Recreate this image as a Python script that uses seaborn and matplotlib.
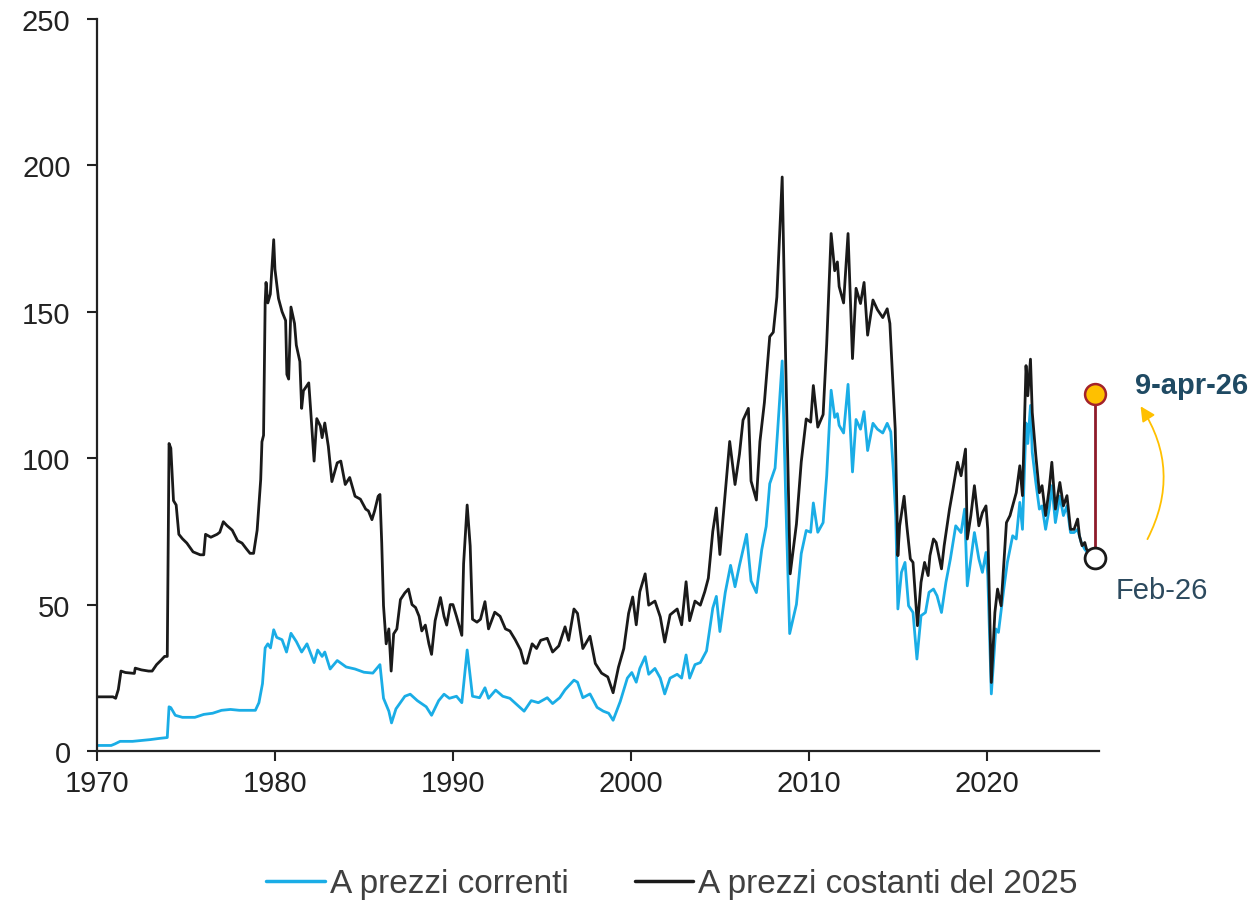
import matplotlib

matplotlib.use("Agg")
import matplotlib.pyplot as plt
import pandas as pd
import seaborn as sns

# Prezzo del petrolio (dollari al barile), letture approssimate dal grafico
anni_costanti = [
    1970.0, 1970.9, 1971.05, 1971.2, 1971.35, 1971.6, 1972.1, 1972.15, 1972.5, 1972.9,
    1973.1, 1973.35, 1973.6, 1973.8, 1973.95, 1974.05, 1974.15, 1974.3, 1974.45, 1974.6,
    1974.8, 1975.05, 1975.4, 1975.8, 1976.0, 1976.1, 1976.4, 1976.75, 1976.9, 1977.1,
    1977.3, 1977.6, 1977.9, 1978.15, 1978.4, 1978.6, 1978.8, 1979.0, 1979.2, 1979.27,
    1979.36, 1979.45, 1979.5, 1979.6, 1979.74, 1979.93, 1980.0, 1980.2, 1980.4, 1980.6,
    1980.67, 1980.77, 1980.9, 1981.1, 1981.2, 1981.4, 1981.5, 1981.6, 1981.9, 1982.0,
    1982.2, 1982.35, 1982.55, 1982.65, 1982.8, 1983.0, 1983.2, 1983.5, 1983.7, 1983.95,
    1984.2, 1984.5, 1984.8, 1985.1, 1985.25, 1985.45, 1985.6, 1985.8, 1985.9, 1986.0,
    1986.1, 1986.25, 1986.4, 1986.53, 1986.67, 1986.85, 1987.05, 1987.3, 1987.5, 1987.7,
    1987.9, 1988.1, 1988.25, 1988.45, 1988.65, 1988.8, 1989.0, 1989.3, 1989.5, 1989.65,
    1989.85, 1990.0, 1990.2, 1990.5, 1990.6, 1990.8, 1990.97, 1991.1, 1991.35, 1991.55,
    1991.8, 1992.0, 1992.35, 1992.65, 1992.95, 1993.2, 1993.5, 1993.8, 1994.0, 1994.15,
    1994.45, 1994.7, 1994.93, 1995.3, 1995.6, 1995.95, 1996.3, 1996.5, 1996.8, 1997.0,
    1997.3, 1997.7, 1998.0, 1998.35, 1998.7, 1999.0, 1999.3, 1999.6, 1999.87, 2000.1,
    2000.3, 2000.5, 2000.8, 2001.0, 2001.35, 2001.65, 2001.9, 2002.2, 2002.6, 2002.85,
    2003.1, 2003.3, 2003.6, 2003.9, 2004.15, 2004.35, 2004.6, 2004.8, 2005.0, 2005.3,
    2005.55, 2005.85, 2006.1, 2006.3, 2006.6, 2006.75, 2007.05, 2007.25, 2007.5, 2007.8,
    2008.0, 2008.2, 2008.5, 2008.7, 2008.95, 2009.3, 2009.57, 2009.85, 2010.1, 2010.25,
    2010.5, 2010.8, 2011.0, 2011.25, 2011.45, 2011.6, 2011.7, 2011.95, 2012.2, 2012.45,
    2012.65, 2012.9, 2013.1, 2013.3, 2013.6, 2013.85, 2014.15, 2014.4, 2014.55, 2014.7,
    2014.85, 2015.0, 2015.1, 2015.35, 2015.5, 2015.7, 2015.85, 2016.1, 2016.3, 2016.5,
    2016.7, 2016.8, 2017.0, 2017.15, 2017.45, 2017.6, 2017.9, 2018.1, 2018.35, 2018.55,
    2018.8, 2018.9, 2019.1, 2019.3, 2019.55, 2019.75, 2019.95, 2020.05, 2020.25, 2020.45,
    2020.6, 2020.8, 2021.1, 2021.3, 2021.45, 2021.65, 2021.85, 2022.0, 2022.2, 2022.3,
    2022.45, 2022.55, 2022.75, 2022.95, 2023.1, 2023.3, 2023.5, 2023.65, 2023.85, 2024.1,
    2024.3, 2024.5, 2024.7, 2024.9, 2025.1, 2025.2, 2025.35, 2025.5, 2025.6, 2025.8,
    2026.08,
]
prezzi_costanti = [
    18.5, 18.5, 18, 21, 27.3, 26.8, 26.5, 28.3, 27.7, 27.3,
    27.3, 29.5, 31, 32.3, 32.3, 105, 103.4, 85.5, 84, 74,
    72.5, 71, 68, 67, 67, 74, 73, 74, 74.7, 78.3,
    77, 75.4, 71.8, 71, 69, 67.5, 67.5, 75.4, 92.7, 105.6,
    107.8, 153, 160, 153, 156, 174.6, 164.5, 154.5, 150, 147,
    128.6, 127, 151.6, 146, 138.6, 133, 117, 123, 125.7, 117,
    99, 113.5, 111, 107, 112, 104, 92, 98.4, 99, 91,
    93.4, 87, 86, 82.6, 82, 79, 82, 87, 87.6, 71,
    49.6, 36.6, 41.7, 27.3, 40, 41.7, 51.7, 54, 55.3, 50,
    49, 46, 41, 43, 36.6, 33, 44.5, 52.4, 46, 43,
    50, 50, 46, 39.5, 64, 84, 70, 45, 44, 45,
    51, 41.7, 47.4, 46, 41.7, 41, 38, 34.5, 30, 30,
    36.6, 35, 37.8, 38.5, 33.8, 35.9, 42.4, 37.8, 48.5, 47,
    35, 39.2, 29.9, 26.6, 25.3, 19.9, 28.6, 35, 47, 52.6,
    43.1, 54.4, 60.5, 49.8, 51.2, 45.8, 37.2, 46.5, 48.5, 43.1,
    57.8, 44.5, 51.2, 49.8, 54.4, 59, 75, 83, 67.1, 88.3,
    105.7, 91, 101.4, 113, 117, 92.2, 85.7, 105.7, 119, 141.5,
    143, 155, 196, 132, 60.5, 77.5, 98.7, 113.4, 112.3, 124.8,
    110.6, 114.9, 138.9, 176.7, 164, 167, 158.6, 153, 176.7, 134,
    158, 152.8, 160, 142, 154, 150.7, 148, 151, 146, 128,
    110, 66.7, 76.9, 87, 77, 65.6, 64.4, 42.8, 57.6, 64.4,
    59.9, 66.7, 72.4, 71.2, 62.2, 70.1, 82.6, 89.5, 98.6, 94,
    103.1, 72.4, 80.4, 90.6, 76.9, 81.4, 83.7, 75.7, 23.4, 47.3,
    55.3, 49.6, 78, 80.4, 83.7, 88.2, 97.4, 87.2, 131.6, 121.3,
    133.8, 115.6, 100.9, 88.2, 90.6, 80.4, 89.5, 98.6, 82.6, 91.7,
    83.7, 87.2, 75.7, 75.7, 79.2, 73.5, 70.1, 71.2, 68.9, 67.8,
    66,
]

anni_correnti = [
    1970.0, 1970.8, 1971.0, 1971.3, 1972.0, 1972.5, 1973.0, 1973.5, 1973.95, 1974.05,
    1974.15, 1974.4, 1974.8, 1975.5, 1976.0, 1976.5, 1977.0, 1977.5, 1978.0, 1978.9,
    1979.1, 1979.3, 1979.45, 1979.6, 1979.75, 1979.93, 1980.1, 1980.4, 1980.65, 1980.9,
    1981.2, 1981.5, 1981.8, 1982.2, 1982.4, 1982.65, 1982.8, 1983.1, 1983.5, 1984.0,
    1984.5, 1985.0, 1985.5, 1985.9, 1986.1, 1986.4, 1986.55, 1986.8, 1987.3, 1987.6,
    1988.0, 1988.5, 1988.8, 1989.2, 1989.5, 1989.8, 1990.2, 1990.5, 1990.8, 1991.1,
    1991.5, 1991.8, 1992.0, 1992.4, 1992.8, 1993.2, 1993.6, 1994.0, 1994.4, 1994.8,
    1995.3, 1995.6, 1996.0, 1996.3, 1996.8, 1997.0, 1997.3, 1997.7, 1998.1, 1998.45,
    1998.75, 1999.0, 1999.4, 1999.8, 2000.05, 2000.3, 2000.5, 2000.8, 2001.0, 2001.35,
    2001.65, 2001.9, 2002.2, 2002.6, 2002.85, 2003.1, 2003.3, 2003.6, 2003.9, 2004.25,
    2004.6, 2004.8, 2005.0, 2005.3, 2005.6, 2005.85, 2006.1, 2006.5, 2006.75, 2007.05,
    2007.35, 2007.6, 2007.8, 2008.1, 2008.25, 2008.5, 2008.7, 2008.92, 2009.3, 2009.57,
    2009.85, 2010.1, 2010.25, 2010.5, 2010.8, 2011.0, 2011.25, 2011.45, 2011.6, 2011.7,
    2011.95, 2012.2, 2012.45, 2012.65, 2012.9, 2013.1, 2013.3, 2013.6, 2013.85, 2014.15,
    2014.4, 2014.6, 2014.75, 2014.88, 2015.0, 2015.2, 2015.4, 2015.6, 2015.85, 2016.07,
    2016.3, 2016.55, 2016.75, 2017.0, 2017.2, 2017.45, 2017.7, 2017.95, 2018.25, 2018.55,
    2018.75, 2018.9, 2019.1, 2019.3, 2019.55, 2019.75, 2019.95, 2020.05, 2020.25, 2020.5,
    2020.65, 2020.95, 2021.15, 2021.45, 2021.65, 2021.85, 2022.0, 2022.2, 2022.3, 2022.45,
    2022.55, 2022.75, 2022.95, 2023.1, 2023.3, 2023.5, 2023.65, 2023.85, 2024.1, 2024.3,
    2024.5, 2024.7, 2024.9, 2025.1, 2025.3, 2025.5, 2025.65, 2026.08,
]
prezzi_correnti = [
    1.9, 1.9, 2.4, 3.3, 3.3, 3.6, 3.9, 4.3, 4.6, 15.1,
    14.8, 12.2, 11.5, 11.5, 12.5, 12.9, 13.9, 14.2, 13.9, 13.9,
    16.5, 23, 35.2, 36.6, 35.2, 41.4, 38.8, 38, 33.8, 40.2,
    37.4, 33.8, 36.6, 30.2, 34.5, 32.3, 33.8, 28, 30.9, 28.7,
    28, 26.9, 26.6, 29.5, 18, 13.6, 9.6, 14.4, 18.7, 19.4,
    17.2, 15.1, 12.2, 17.2, 19.4, 18, 18.7, 16.5, 34.5, 18.7,
    18.2, 21.6, 18, 20.8, 18.7, 18, 15.8, 13.6, 17.2, 16.5,
    18.2, 16.2, 18.2, 20.9, 24.2, 23.5, 18.2, 19.5, 14.9, 13.6,
    12.9, 10.5, 16.9, 24.9, 26.8, 23.5, 28.2, 32.2, 26.2, 28.2,
    24.9, 19.5, 24.9, 26.2, 24.9, 32.8, 24.9, 29.5, 30.2, 34.2,
    48.8, 52.8, 40.8, 54.1, 63.4, 56.1, 63.4, 74, 58.1, 54.1,
    68.7, 76.7, 91.3, 96.6, 109.9, 133.2, 86, 40.1, 50.1, 67.4,
    75.3, 74.7, 84.7, 74.7, 78, 94, 123.2, 113.9, 115.2, 111.2,
    108.6, 125.2, 95.3, 113.2, 109.9, 115.9, 102.6, 111.9, 109.9, 108.6,
    111.9, 109, 95.3, 80, 48.5, 61, 64.4, 49.6, 47.3, 31.4,
    46.2, 47.3, 54.2, 55.3, 53, 47.3, 57.6, 65.6, 76.9, 74.6,
    82.6, 56.4, 65.6, 74.6, 65.6, 61, 67.8, 59.9, 19.5, 41.7,
    40.5, 55.3, 64.4, 73.5, 72.4, 84.9, 75.7, 112, 105, 118,
    102, 91.7, 82.6, 83.7, 75.7, 82.6, 90.6, 78, 87, 80.4,
    83.7, 74.6, 74.6, 75.7, 71.2, 68.9, 67.8, 65.6,
]

# ultimo dato mensile e quotazione del 9 aprile 2026
data_feb26 = 2026.08
prezzo_feb26 = 66
prezzo_apr26 = 122

etichetta_correnti = "A prezzi correnti"
etichetta_costanti = "A prezzi costanti del 2025"

df = pd.concat([
    pd.DataFrame({"anno": anni_correnti, "prezzo": prezzi_correnti, "serie": etichetta_correnti}),
    pd.DataFrame({"anno": anni_costanti, "prezzo": prezzi_costanti, "serie": etichetta_costanti}),
])

sns.set_style("ticks")
plt.rcParams["font.family"] = ["Liberation Sans", "DejaVu Sans"]

fig = plt.figure(figsize=(12.56, 9.03), dpi=100)
ax = fig.add_axes([0.0772, 0.1672, 0.7978, 0.8108])

sns.lineplot(
    data=df, x="anno", y="prezzo", hue="serie",
    palette={etichetta_correnti: "#1AADE6", etichetta_costanti: "#1A1A1A"},
    linewidth=2.0, ax=ax, sort=False, estimator=None, legend=False,
)

# salto feb-26 -> 9-apr-26
ax.plot([data_feb26, data_feb26], [prezzo_feb26, prezzo_apr26], color="#8E1B2A", lw=2, zorder=4)
ax.plot(data_feb26, prezzo_apr26, "o", ms=15, mfc="#FFC000", mec="#A3222A", mew=1.8, zorder=5, clip_on=False)
ax.plot(data_feb26, prezzo_feb26, "o", ms=15, mfc="white", mec="#1A1A1A", mew=2, zorder=5, clip_on=False)

ax.annotate(
    "", xy=(2028.55, 118.5), xytext=(2028.95, 71.5), annotation_clip=False,
    arrowprops=dict(arrowstyle="-|>", color="#FFC000", lw=1.3, mutation_scale=22,
                    connectionstyle="arc3,rad=0.3"),
)
ax.text(2028.35, 125, "9-apr-26", fontsize=21, fontweight="bold", color="#1F4A63",
        va="center", ha="left", clip_on=False)
ax.text(2027.25, 55, "Feb-26", fontsize=21, color="#2C4A5E", va="center", ha="left", clip_on=False)

ax.set_xlim(1970, 2026.3)
ax.set_ylim(0, 250)
ax.set_xticks([1970, 1980, 1990, 2000, 2010, 2020])
ax.set_yticks([0, 50, 100, 150, 200, 250])
ax.set_xlabel("")
ax.set_ylabel("")
ax.tick_params(axis="both", labelsize=21, colors="#222222", width=1.5, length=7)
ax.tick_params(axis="y", pad=12)
ax.tick_params(axis="x", pad=6)
sns.despine(ax=ax)
for side in ["left", "bottom"]:
    ax.spines[side].set_linewidth(1.6)
    ax.spines[side].set_color("#222222")

handles = [
    plt.Line2D([], [], color="#1AADE6", lw=2.5),
    plt.Line2D([], [], color="#1A1A1A", lw=2.5),
]
fig.legend(
    handles, [etichetta_correnti, etichetta_costanti], loc="center",
    bbox_to_anchor=(0.535, 0.02), ncol=2, frameon=False, fontsize=24,
    handlelength=1.75, handletextpad=0.15, columnspacing=2.0, labelcolor="#404040",
)

fig.savefig("out.png", dpi=100)
plt.close(fig)
